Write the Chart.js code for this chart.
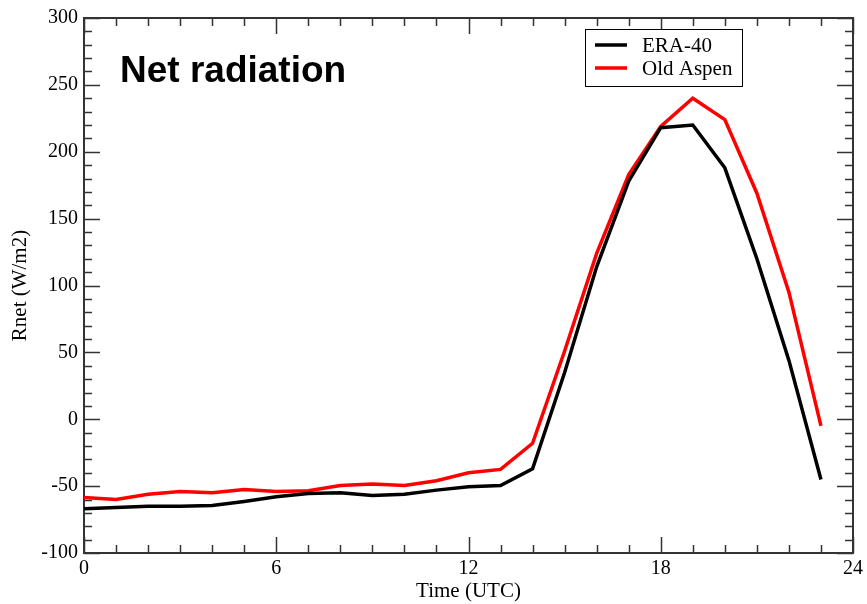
<!DOCTYPE html>
<html lang="en">
  <head>
    <meta charset="UTF-8" />
    <title>Net radiation</title>
    <script src="https://cdn.jsdelivr.net/npm/chart.js"></script>
    <style>
      html, body { margin: 0; padding: 0; background: #fff; }
      #wrap { width: 867px; height: 604px; }
    </style>
  </head>
  <body>
    <div id="wrap"><canvas id="rnetChart" width="867" height="604"></canvas></div>

    <script>
      const chartTitle = "Net radiation";
      const hours = [0, 1, 2, 3, 4, 5, 6, 7, 8, 9, 10, 11, 12, 13, 14, 15, 16, 17, 18, 19, 20, 21, 22, 23];
      const era40 = [-67, -66, -65, -65, -64.5, -61.5, -58, -55.5, -55, -57, -56, -53, -50.5, -49.5, -37, 35, 114, 178, 218, 220, 188, 120, 44, -45];
      const oldAspen = [-58.5, -60, -56, -54, -55, -52.5, -54, -53.5, -49.5, -48.5, -49.5, -46, -40, -37.5, -18, 51, 124, 183, 219, 240, 224, 169, 95, -5];
      const xTicks = [0, 6, 12, 18, 24];
      const yTicks = [-100, -50, 0, 50, 100, 150, 200, 250, 300];

      const serif = "'Liberation Serif', 'DejaVu Serif', serif";
      const frameColor = "#333";

      // frame, inward ticks on all four sides, title and legend box
      const decorations = {
        id: "decorations",
        beforeDatasetsDraw(chart) {
          const { ctx, chartArea: a, scales } = chart;
          const x = scales.x, y = scales.y;
          ctx.save();
          ctx.strokeStyle = frameColor;
          ctx.lineWidth = 1.5;
          ctx.beginPath();
          for (let h = 0; h <= 24; h++) {
            const px = Math.round(x.getPixelForValue(h)) + 0.5;
            const len = h % 6 === 0 ? 16 : 8;
            ctx.moveTo(px, a.bottom); ctx.lineTo(px, a.bottom - len);
            ctx.moveTo(px, a.top); ctx.lineTo(px, a.top + len);
          }
          for (let v = -100; v <= 300; v += 10) {
            const py = Math.round(y.getPixelForValue(v)) + 0.5;
            const len = v % 50 === 0 ? 16 : 8;
            ctx.moveTo(a.left, py); ctx.lineTo(a.left + len, py);
            ctx.moveTo(a.right, py); ctx.lineTo(a.right - len, py);
          }
          ctx.stroke();
          ctx.lineWidth = 2;
          ctx.strokeRect(a.left, a.top, a.right - a.left, a.bottom - a.top);
          ctx.restore();
        },
        afterDatasetsDraw(chart) {
          const { ctx } = chart;
          ctx.save();
          ctx.fillStyle = "#000";
          ctx.font = "bold 37px 'Liberation Sans', Arial, sans-serif";
          ctx.textBaseline = "alphabetic";
          ctx.fillText(chartTitle, 120, 82);

          // legend
          const bx = 585, by = 29, bw = 157, bh = 57;
          ctx.fillStyle = "#fff";
          ctx.fillRect(bx, by, bw, bh);
          ctx.strokeStyle = "#000";
          ctx.lineWidth = 1;
          ctx.strokeRect(bx + 0.5, by + 0.5, bw, bh);
          ctx.font = "21px " + serif;
          ctx.textBaseline = "middle";
          chart.data.datasets.forEach((ds, i) => {
            const ry = 45 + i * 23;
            ctx.strokeStyle = ds.borderColor;
            ctx.lineWidth = 3.5;
            ctx.beginPath();
            ctx.moveTo(595, ry);
            ctx.lineTo(627, ry);
            ctx.stroke();
            ctx.fillStyle = "#000";
            ctx.fillText(ds.label, 642, ry + 1);
          });
          ctx.restore();
        },
      };

      new Chart(document.getElementById("rnetChart"), {
        type: "line",
        data: {
          datasets: [
            {
              label: "ERA-40",
              data: hours.map((h, i) => ({ x: h, y: era40[i] })),
              borderColor: "#000000",
              borderWidth: 3.5,
              pointRadius: 0,
              tension: 0,
            },
            {
              label: "Old Aspen",
              data: hours.map((h, i) => ({ x: h, y: oldAspen[i] })),
              borderColor: "#ff0000",
              borderWidth: 3.5,
              pointRadius: 0,
              tension: 0,
            },
          ],
        },
        options: {
          responsive: false,
          animation: false,
          layout: { padding: { top: 14, right: 13, left: 8, bottom: 0 } },
          plugins: {
            legend: { display: false },
            tooltip: { enabled: false },
          },
          scales: {
            x: {
              type: "linear",
              min: 0,
              max: 24,
              afterBuildTicks: (s) => { s.ticks = xTicks.map((v) => ({ value: v })); },
              afterFit: (s) => { s.height = 51; },
              grid: { display: false, drawTicks: false },
              border: { display: false },
              ticks: { color: "#000", padding: 4, maxRotation: 0, font: { family: serif, size: 20 } },
              title: { display: true, text: "Time (UTC)", color: "#000", padding: 0, font: { family: serif, size: 21 } },
            },
            y: {
              min: -100,
              max: 300,
              afterBuildTicks: (s) => { s.ticks = yTicks.map((v) => ({ value: v })); },
              afterFit: (s) => { s.width = 76; },
              grid: { display: false, drawTicks: false },
              border: { display: false },
              ticks: { color: "#000", padding: 6, font: { family: serif, size: 20 } },
              title: { display: true, text: "Rnet (W/m2)", color: "#000", padding: 0, font: { family: serif, size: 21 } },
            },
          },
        },
        plugins: [decorations],
      });
    </script>
  </body>
</html>
